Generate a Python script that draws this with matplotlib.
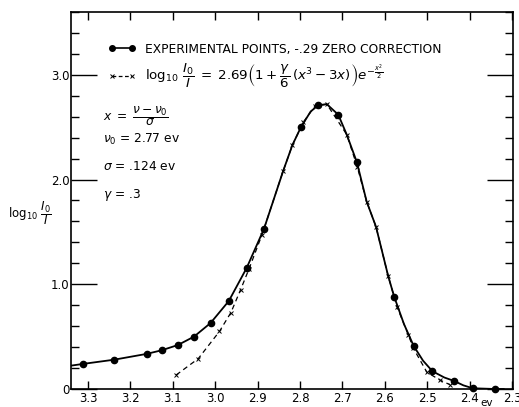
import matplotlib
matplotlib.use("Agg")
import matplotlib.pyplot as plt
from matplotlib.lines import Line2D
from matplotlib.ticker import MultipleLocator

plt.rcParams["font.family"] = ["DejaVu Sans"]
plt.rcParams["mathtext.fontset"] = "dejavusans"

# experimental points (eV, log10 I0/I), -.29 zero correction
exp_ev = [3.311, 3.238, 3.162, 3.126, 3.088, 3.050, 3.011, 2.968, 2.926, 2.885,
          2.798, 2.757, 2.710, 2.666, 2.578, 2.532, 2.488, 2.437, 2.393, 2.340]
exp_od = [0.24, 0.28, 0.335, 0.37, 0.42, 0.50, 0.63, 0.84, 1.155, 1.53,
          2.50, 2.71, 2.62, 2.165, 0.88, 0.41, 0.17, 0.077, 0.007, 0.0]

# hand drawn solid curve through the experimental points
curve_ev = [3.345, 3.311, 3.238, 3.162, 3.126, 3.088, 3.050, 3.011, 2.968, 2.926,
            2.885, 2.840, 2.818, 2.798, 2.775, 2.757, 2.737, 2.710, 2.690, 2.666,
            2.643, 2.621, 2.592, 2.578, 2.555, 2.532, 2.510, 2.488, 2.460, 2.437,
            2.415, 2.393, 2.340, 2.320]
curve_od = [0.22, 0.24, 0.28, 0.335, 0.37, 0.42, 0.50, 0.63, 0.84, 1.155,
            1.53, 2.08, 2.33, 2.50, 2.65, 2.71, 2.72, 2.62, 2.43, 2.165,
            1.79, 1.55, 1.075, 0.88, 0.62, 0.41, 0.27, 0.17, 0.11, 0.077,
            0.035, 0.007, 0.0, 0.0]

# skewed gaussian fit (crosses)
fit_ev = [3.092, 3.040, 2.990, 2.963, 2.940, 2.920, 2.890, 2.840, 2.818, 2.792,
          2.765, 2.737, 2.690, 2.665, 2.643, 2.621, 2.592, 2.571, 2.545, 2.533,
          2.501, 2.470, 2.446]
fit_od = [0.134, 0.29, 0.55, 0.73, 0.95, 1.15, 1.47, 2.08, 2.33, 2.55,
          2.70, 2.72, 2.43, 2.12, 1.79, 1.55, 1.075, 0.78, 0.52, 0.39,
          0.16, 0.085, 0.04]

x_ticks = [3.3, 3.2, 3.1, 3.0, 2.9, 2.8, 2.7, 2.6, 2.5, 2.4, 2.3]
x_labels = ["3.3", "3.2", "3.1", "3.0", "2.9", "2.8", "2.7", "2.6", "2.5", "2.4", "2.3"]
y_ticks = [0, 1, 2, 3]
y_labels = ["0", "1.0", "2.0", "3.0"]

fig = plt.figure(figsize=(5.19, 4.07), dpi=100)
ax = fig.add_axes([71 / 519, 1 - 389 / 407, 442 / 519, 377 / 407])

ax.plot(curve_ev, curve_od, color="black", lw=1.3)
ax.plot(fit_ev, fit_od, color="black", lw=0.9, ls=(0, (4, 3)),
        marker="x", markersize=3, markeredgewidth=0.7)
ax.plot(exp_ev, exp_od, "o", color="black", markersize=4.5, clip_on=False)

ax.set_xlim(3.34, 2.298)
ax.set_ylim(0, 3.6)
ax.set_xticks(x_ticks)
ax.set_xticklabels(x_labels)
ax.set_yticks(y_ticks)
ax.set_yticklabels(y_labels)
ax.yaxis.set_minor_locator(MultipleLocator(0.2))

ax.tick_params(axis="x", which="major", direction="in", top=True, length=6,
               width=1, labelsize=8.5, pad=2)
ax.tick_params(axis="y", which="major", direction="in", right=True, length=19,
               width=1, labelsize=8.5, pad=1)
ax.tick_params(axis="y", which="minor", direction="in", right=True, length=6, width=1)
for s in ax.spines.values():
    s.set_linewidth(1.2)

# legend: dot-line-dot and x---x
exp_handle = Line2D([], [], color="black", lw=1.2, marker="o", markersize=4)
fit_handle = Line2D([], [], color="black", lw=0.9, ls=(0, (3, 2)),
                    marker="x", markersize=3, markeredgewidth=0.7)
leg = ax.legend([exp_handle, fit_handle],
                ["EXPERIMENTAL POINTS, -.29 ZERO CORRECTION",
                 r"$\log_{10}\,\dfrac{I_0}{I}\;=\;2.69\left(1+\dfrac{\gamma}{6}\,(x^3-3x)\right)e^{-\frac{x^2}{2}}$"],
                loc="upper left", bbox_to_anchor=(0.07, 0.935), frameon=False,
                numpoints=2, handlelength=2.3, handletextpad=0.7,
                labelspacing=0.5, fontsize=8.8, borderpad=0)
leg.get_texts()[1].set_fontsize(9.6)

ax.text(0.072, 0.725, r"$x\;=\;\dfrac{\nu-\nu_0}{\sigma}$", transform=ax.transAxes,
        fontsize=8.8, va="center")
ax.text(0.072, 0.663, r"$\nu_0$ = 2.77 ev", transform=ax.transAxes,
        fontsize=8.8, va="center")
ax.text(0.072, 0.589, r"$\sigma$ = .124 ev", transform=ax.transAxes,
        fontsize=8.8, va="center")
ax.text(0.072, 0.515, r"$\gamma$ = .3", transform=ax.transAxes,
        fontsize=8.8, va="center")

ax.text(0.941, -0.037, "ev", transform=ax.transAxes, fontsize=7.5,
        ha="center", va="center")
fig.text(0.015, 0.477, r"$\log_{10}\,\dfrac{I_0}{I}$", fontsize=8.5, va="center")

fig.savefig("out.png", dpi=100)
